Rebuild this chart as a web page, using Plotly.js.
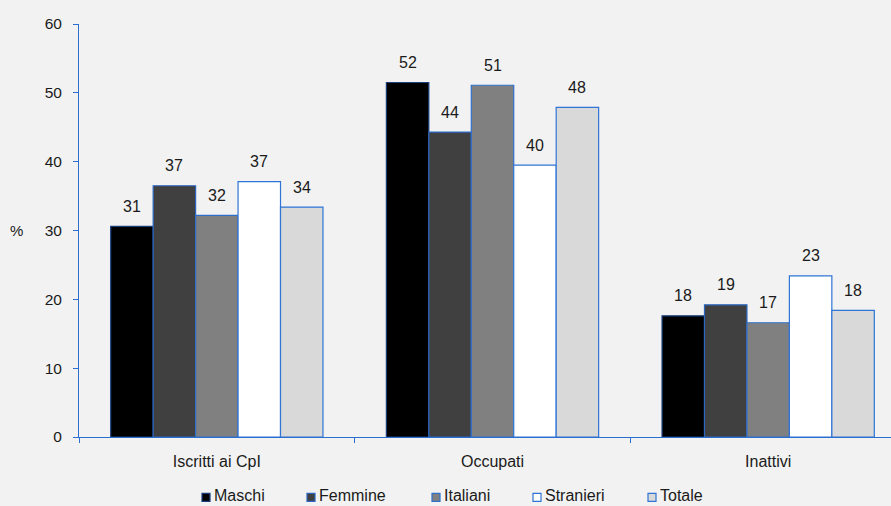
<!DOCTYPE html>
<html>
<head>
<meta charset="utf-8">
<script src="https://cdn.plot.ly/plotly-3.0.1.min.js"></script>
<style>
html,body{margin:0;padding:0;background:#f2f2f2;}
#chart{width:891px;height:506px;}
</style>
</head>
<body>
<div id="chart"></div>
<script>
const categories = ["Iscritti ai CpI", "Occupati", "Inattivi"];
const seriesNames = ["Maschi", "Femmine", "Italiani", "Stranieri", "Totale"];
const maschi    = [30.6, 51.5, 17.6];
const femmine   = [36.5, 44.3, 19.2];
const italiani  = [32.2, 51.1, 16.6];
const stranieri = [37.1, 39.5, 23.4];
const totale    = [33.4, 47.9, 18.4];
const labelsMaschi    = ["31", "52", "18"];
const labelsFemmine   = ["37", "44", "19"];
const labelsItaliani  = ["32", "51", "17"];
const labelsStranieri = ["37", "40", "23"];
const labelsTotale    = ["34", "48", "18"];
const yTicks = [0, 10, 20, 30, 40, 50, 60];

const values = [maschi, femmine, italiani, stranieri, totale];
const labels = [labelsMaschi, labelsFemmine, labelsItaliani, labelsStranieri, labelsTotale];
const fills = ["#000000", "#404040", "#808080", "#ffffff", "#d9d9d9"];
const outlines = ["#1b3f7e", "#2a66c2", "#2f6fcc", "#2f74d6", "#2f74d6"];
const FONT = "Liberation Sans, Arial, sans-serif";
const TXT = "#1a1a1a";
const bargap = 0.23;
const nS = seriesNames.length;
const bw = (1 - bargap) / nS;

// plot area geometry (pixels)
const L = 79, T = 24, W = 891 - 79, H = 412.7;
const px2x = p => (p - L) / W;
const py2y = p => (T + H - p) / H;

const traces = seriesNames.map((name, s) => ({
  type: "bar",
  name: name,
  x: categories,
  y: values[s],
  marker: {color: fills[s], line: {color: outlines[s], width: 1.2}},
  hoverinfo: "none",
  showlegend: false
}));

const annotations = [];
values.forEach((vals, s) => {
  vals.forEach((v, c) => {
    annotations.push({
      x: c + (s - (nS - 1) / 2) * bw,
      y: v,
      xref: "x", yref: "y",
      text: labels[s][c],
      showarrow: false,
      yanchor: "middle",
      yshift: 20,
      font: {family: FONT, size: 16, color: TXT}
    });
  });
});
annotations.push({
  xref: "paper", yref: "y", x: px2x(16), y: 30, xanchor: "center",
  text: "%", showarrow: false,
  font: {family: FONT, size: 15, color: TXT}
});

// custom legend (marker squares + labels)
const legendMarkerX = [206, 311, 436, 537, 652];
const legendY = 495;
const shapes = [];
seriesNames.forEach((name, s) => {
  shapes.push({
    type: "rect", xref: "paper", yref: "paper",
    xsizemode: "pixel", ysizemode: "pixel",
    xanchor: px2x(legendMarkerX[s]), yanchor: py2y(legendY + 2),
    x0: -4, x1: 4, y0: -4, y1: 4,
    fillcolor: fills[s], line: {color: outlines[s], width: 1.2}
  });
  annotations.push({
    xref: "paper", yref: "paper",
    x: px2x(legendMarkerX[s] + 6), y: py2y(legendY),
    xanchor: "left", yanchor: "middle",
    text: name, showarrow: false,
    font: {family: FONT, size: 16, color: TXT}
  });
});

const layout = {
  width: 891, height: 506,
  paper_bgcolor: "#f2f2f2", plot_bgcolor: "#f2f2f2",
  margin: {l: L, r: 0, t: T, b: 506 - T - H},
  barmode: "group", bargap: bargap, bargroupgap: 0,
  showlegend: false,
  xaxis: {
    type: "category",
    range: [-0.5, 2.5 - 15 / 275.5],
    showline: true, linecolor: "#2a6fd0", linewidth: 1,
    ticks: "outside", tickson: "boundaries", ticklen: 5, tickcolor: "#2a6fd0",
    ticklabelstandoff: 10,
    showgrid: false, zeroline: false,
    tickfont: {family: FONT, size: 16, color: TXT}
  },
  yaxis: {
    range: [0, 60],
    tickvals: yTicks, ticktext: yTicks.map(String),
    showline: true, linecolor: "#2a6fd0", linewidth: 1,
    ticks: "outside", ticklen: 5, tickcolor: "#2a6fd0",
    ticklabelstandoff: 8,
    showgrid: false, zeroline: false,
    tickfont: {family: FONT, size: 15.5, color: TXT}
  },
  shapes: shapes,
  annotations: annotations
};

Plotly.newPlot("chart", traces, layout, {staticPlot: true, displayModeBar: false});
</script>
</body>
</html>
